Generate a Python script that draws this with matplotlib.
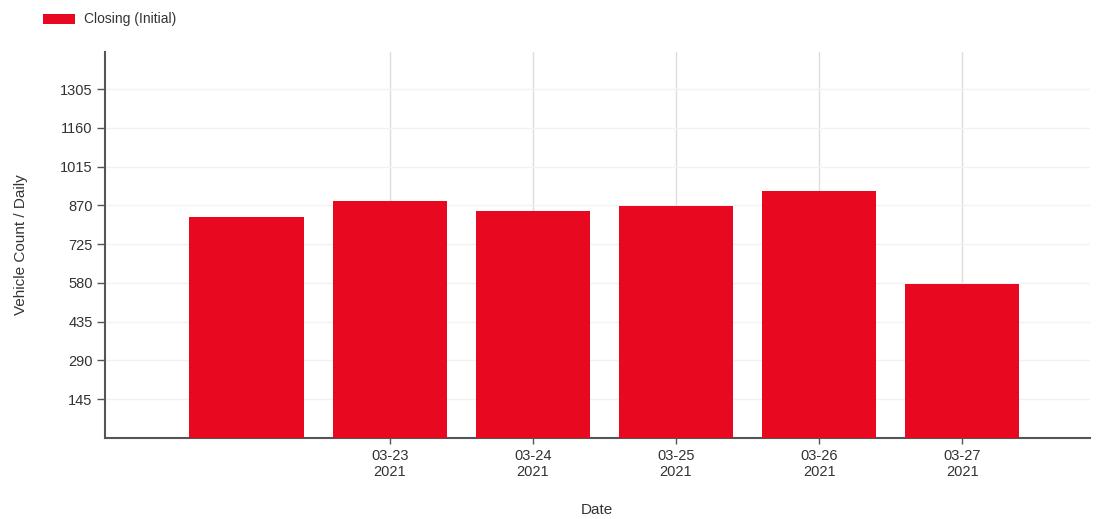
import matplotlib
matplotlib.use("Agg")
import matplotlib.pyplot as plt
from matplotlib.patches import Patch

plt.rcParams['font.family'] = ['Liberation Sans', 'DejaVu Sans']

dates = ["03-22\n2021", "03-23\n2021", "03-24\n2021", "03-25\n2021", "03-26\n2021", "03-27\n2021"]
closing = [826, 886, 848, 867, 923, 575]
yticks = [145, 290, 435, 580, 725, 870, 1015, 1160, 1305]
series_name = "Closing (Initial)"
bar_color = "#e8081f"

fig = plt.figure(figsize=(11, 5.19), dpi=100)
ax = fig.add_axes([0.0955, 0.156, 0.895, 0.744])

x = list(range(len(dates)))
ax.bar(x, closing, width=0.8, color=bar_color, zorder=3)

ax.set_xlim(-0.99, 5.89)
ax.set_ylim(0, 1444)
ax.set_yticks(yticks)
ax.set_xticks(x[1:])
ax.set_xticklabels(dates[1:], linespacing=1.2)

ax.grid(axis='x', color='#dddddd', linewidth=1, zorder=0)
ax.grid(axis='y', color='#f2f2f2', linewidth=1, zorder=0)

for s in ['top', 'right']:
    ax.spines[s].set_visible(False)
for s in ['left', 'bottom']:
    ax.spines[s].set_color('#555555')
    ax.spines[s].set_linewidth(1.5)

ax.tick_params(axis='y', length=6, width=1, color='#555555', labelsize=10.5, labelcolor='#333333', pad=3)
ax.tick_params(axis='x', length=4, width=1, color='#555555', labelsize=10.5, labelcolor='#333333', pad=4)

ax.set_xlabel("Date", fontsize=11, color='#333333', labelpad=17)
ax.set_ylabel("Vehicle Count / Daily", fontsize=11, color='#333333', labelpad=23)

handle = Patch(facecolor=bar_color, edgecolor='none')
fig.legend([handle], [series_name], loc='upper left', bbox_to_anchor=(0.028, 1.0),
           frameon=False, fontsize=10, handlelength=2.3, handleheight=0.7,
           labelcolor='#333333', handletextpad=0.6, borderaxespad=0.5)

fig.savefig("out.png", dpi=100)
